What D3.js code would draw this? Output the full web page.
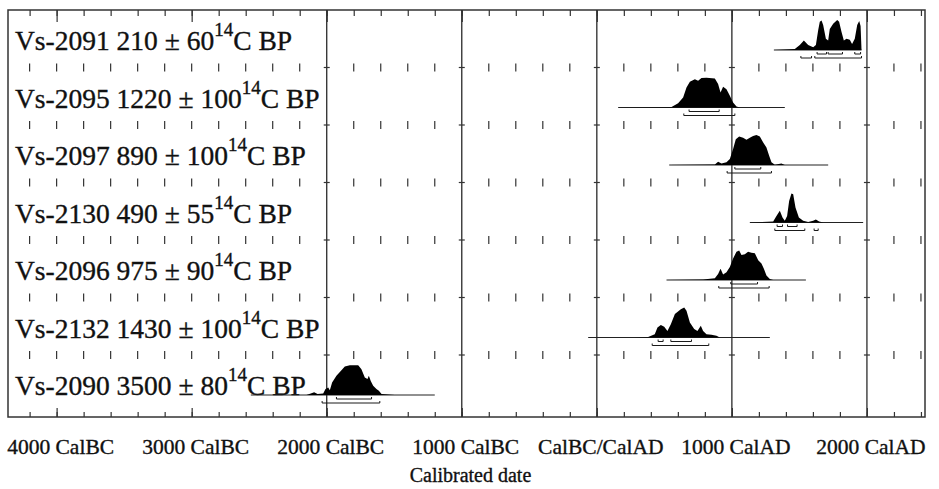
<!DOCTYPE html>
<html>
<head>
<meta charset="utf-8">
<script src="https://cdn.jsdelivr.net/npm/d3@7"></script>
<style>
body { margin: 0; background: #fff; }
svg text { font-family: "Liberation Serif", "Times New Roman", Times, "DejaVu Serif", serif; fill: #111; stroke: #111; stroke-width: 0.35px; }
</style>
</head>
<body>
<div id="chart"></div>
<script>
const width = 939;
const height = 489;
const frame = { left: 8, right: 925, top: 10, bottom: 417 };
const serif = "'Liberation Serif', 'Times New Roman', Times, 'DejaVu Serif', serif";

// sample names, 14C ages and errors
const samples = ["Vs-2091", "Vs-2095", "Vs-2097", "Vs-2130", "Vs-2096", "Vs-2132", "Vs-2090"];
const ages = [210, 1220, 890, 490, 975, 1430, 3500];
const errors = [60, 100, 100, 55, 90, 100, 80];

// calibration range drawn under each distribution (cal years, AD positive)
const spans = [[1311, 1960], [158, 1392], [536, 1713], [1133, 1972], [516, 1548], [-64, 1281], [-2562, -1200]];

// probability distributions, [year, relative density]
const densities = [
    [[1311,0],[1466,0.03],[1503,0.17],[1533,0.32],[1565,0.17],[1602,0.09],[1622,0.17],[1639,0.66],[1651,0.94],[1664,0.98],[1676,0.83],[1696,0.375],[1713,0.32],[1725,0.7],[1750,0.875],[1780,1],[1794,0.94],[1812,0.6],[1829,0.32],[1849,0.375],[1873,0.34],[1890,0.2],[1910,0.375],[1928,0.83],[1943,0.97],[1953,0.8],[1960,0]],
    [[158,0],[553,0.02],[602,0.14],[639,0.33],[664,0.67],[689,0.86],[726,0.94],[750,0.89],[775,0.98],[812,0.99],[874,0.97],[898,0.78],[916,0.5],[935,0.69],[960,0.61],[985,0.39],[1009,0.17],[1034,0.03],[1059,0],[1392,0]],
    [[536,0],[874,0.02],[898,0.11],[923,0.05],[960,0.09],[985,0.2],[1009,0.53],[1029,0.86],[1054,0.95],[1083,0.91],[1108,0.84],[1133,0.91],[1157,0.97],[1182,1],[1207,0.95],[1232,0.75],[1256,0.58],[1276,0.31],[1293,0.09],[1318,0.01],[1367,0.05],[1392,0],[1713,0]],
    [[1133,0],[1306,0.03],[1330,0.22],[1355,0.39],[1375,0.17],[1392,0.06],[1409,0.22],[1424,0.72],[1441,0.97],[1454,0.94],[1471,0.5],[1496,0.17],[1528,0.06],[1565,0.02],[1602,0.06],[1622,0.1],[1646,0.03],[1676,0],[1972,0]],
    [[516,0],[787,0.02],[874,0.06],[898,0.2],[916,0.375],[935,0.18],[960,0.26],[985,0.43],[1009,0.72],[1034,0.94],[1054,0.98],[1071,0.83],[1096,0.86],[1120,0.94],[1145,0.91],[1170,0.89],[1195,0.66],[1219,0.55],[1237,0.375],[1256,0.15],[1281,0.03],[1306,0],[1548,0]],
    [[-64,0],[281,0],[380,0.02],[429,0.11],[449,0.33],[474,0.42],[499,0.36],[523,0.22],[548,0.44],[578,0.78],[622,0.94],[647,1],[664,0.89],[689,0.5],[721,0.28],[745,0.22],[770,0.39],[787,0.22],[812,0.11],[849,0.09],[886,0.06],[911,0],[1281,0]],
    [[-2562,0],[-2150,0],[-2118,0.05],[-2093,0.09],[-2068,0.03],[-2026,0.05],[-2009,0.2],[-1989,0.25],[-1977,0.16],[-1960,0.42],[-1928,0.64],[-1896,0.8],[-1866,0.95],[-1829,0.99],[-1767,0.99],[-1743,0.86],[-1718,0.58],[-1698,0.53],[-1688,0.64],[-1674,0.47],[-1656,0.31],[-1632,0.2],[-1614,0.14],[-1594,0.03],[-1545,0.02],[-1496,0],[-1200,0]]
];

// 68.2% and 95.4% ranges
const oneSigma = [
    [[1631,1701],[1713,1819],[1910,1953]],
    [[683,906]],
    [[1022,1214]],
    [[1335,1375],[1412,1483]],
    [[992,1190]],
    [[454,491],[548,701]],
    [[-1928,-1668]]
];
const twoSigma = [
    [[1511,1590],[1614,1960]],
    [[644,1022]],
    [[965,1293]],
    [[1318,1540],[1609,1639]],
    [[903,1276]],
    [[410,829]],
    [[-2034,-1607]]
];

// axis
const majorYears = [-4000, -3000, -2000, -1000, 0, 1000, 2000];
const majorLabels = ["4000 CalBC", "3000 CalBC", "2000 CalBC", "1000 CalBC", "CalBC/CalAD", "1000 CalAD", "2000 CalAD"];
const gridYears = [-2000, -1000, 0, 1000, 2000];
const minorYears = d3.range(-4200, 2401, 200);

const svg = d3.select("#chart")
    .append("svg")
    .attr("width", width)
    .attr("height", height);

// Scales
const x = d3.scaleLinear().domain([-4360, 2430]).range([frame.left, frame.right]);
const y = d3.scaleBand().domain(samples).range([frame.top, 412.5]);
const h = d3.scaleLinear().domain([0, 1]).range([0, 30]);

const ink = "#1a1a1a";

// ----- Frame -----
svg.append("rect")
    .attr("x", frame.left)
    .attr("y", frame.top)
    .attr("width", frame.right - frame.left)
    .attr("height", frame.bottom - frame.top)
    .attr("fill", "none")
    .attr("stroke", "#333")
    .attr("stroke-width", 1.5);

// full height grid lines
svg.append("g")
    .selectAll("line")
    .data(gridYears)
    .join("line")
    .attr("x1", d => x(d)).attr("x2", d => x(d))
    .attr("y1", frame.top).attr("y2", frame.bottom)
    .attr("stroke", "#2a2a2a")
    .attr("stroke-width", 1.3);

// top ticks
const topAxis = svg.append("g")
    .attr("transform", `translate(0,${frame.top})`)
    .call(d3.axisBottom(x).tickValues(minorYears).tickSize(6).tickFormat(""));
const topMajor = svg.append("g")
    .attr("transform", `translate(0,${frame.top})`)
    .call(d3.axisBottom(x).tickValues(majorYears).tickSize(12).tickFormat(""));

// bottom ticks
const botAxis = svg.append("g")
    .attr("transform", `translate(0,${frame.bottom})`)
    .call(d3.axisTop(x).tickValues(minorYears).tickSize(5).tickFormat(""));
const botMajor = svg.append("g")
    .attr("transform", `translate(0,${frame.bottom})`)
    .call(d3.axisTop(x).tickValues(majorYears).tickSize(9).tickFormat(""));

[topAxis, topMajor, botAxis, botMajor].forEach(g => {
    g.select(".domain").remove();
    g.selectAll("line").attr("stroke", "#333").attr("stroke-width", 1.2);
});

// row separator ticks
const seps = samples.slice(1).map(s => y(s));
seps.forEach(sy => {
    const g = svg.append("g");
    g.selectAll("line.v")
        .data(minorYears.filter(d => !gridYears.includes(d)))
        .join("line")
        .attr("x1", d => x(d)).attr("x2", d => x(d))
        .attr("y1", sy - 4).attr("y2", sy + 4)
        .attr("stroke", "#333")
        .attr("stroke-width", 1.2);
    g.selectAll("line.hz")
        .data(gridYears)
        .join("line")
        .attr("x1", d => x(d) - 3).attr("x2", d => x(d) + 3)
        .attr("y1", sy).attr("y2", sy)
        .attr("stroke", "#333")
        .attr("stroke-width", 1.2);
});

// ----- Labels -----
samples.forEach((s, i) => {
    const t = svg.append("text")
        .attr("x", 15)
        .attr("y", y(s) + 40)
        .style("font-family", serif)
        .style("font-size", "27.5px");
    t.append("tspan").text(`${s} ${ages[i]} \u00b1 ${errors[i]}`);
    t.append("tspan").attr("dy", -14).style("font-size", "19px").text("14");
    t.append("tspan").attr("dy", 14).text("C BP");
});

// ----- Distributions -----
const area = d3.area()
    .x(d => x(d[0]))
    .y1(d => -h(d[1]))
    .y0(0);

samples.forEach((s, i) => {
    const g = svg.append("g").attr("transform", `translate(0,${y(s) + 40})`);

    g.append("line")
        .attr("x1", x(spans[i][0])).attr("x2", x(spans[i][1]))
        .attr("y1", 0).attr("y2", 0)
        .attr("stroke", "#222")
        .attr("stroke-width", 1.2);

    g.append("path")
        .datum(densities[i])
        .attr("d", area)
        .attr("fill", "#000");

    const bracket = (r, by) => `M${x(r[0])},${by - 2}V${by}H${x(r[1])}V${by - 2}`;
    g.selectAll("path.s1")
        .data(oneSigma[i])
        .join("path")
        .attr("d", r => bracket(r, 4))
        .attr("fill", "none")
        .attr("stroke", ink)
        .attr("stroke-width", 1);
    g.selectAll("path.s2")
        .data(twoSigma[i])
        .join("path")
        .attr("d", r => bracket(r, 8))
        .attr("fill", "none")
        .attr("stroke", ink)
        .attr("stroke-width", 1);
});

// ----- Axis labels -----
svg.append("g")
    .selectAll("text")
    .data(majorYears)
    .join("text")
    .attr("x", d => x(d) + 4)
    .attr("y", 454)
    .attr("text-anchor", "middle")
    .style("font-family", serif)
    .style("font-size", "21.5px")
    .text((d, i) => majorLabels[i]);

svg.append("text")
    .attr("x", (frame.left + frame.right) / 2 + 4)
    .attr("y", 482)
    .attr("text-anchor", "middle")
    .style("font-family", serif)
    .style("font-size", "20px")
    .text("Calibrated date");
</script>
</body>
</html>
